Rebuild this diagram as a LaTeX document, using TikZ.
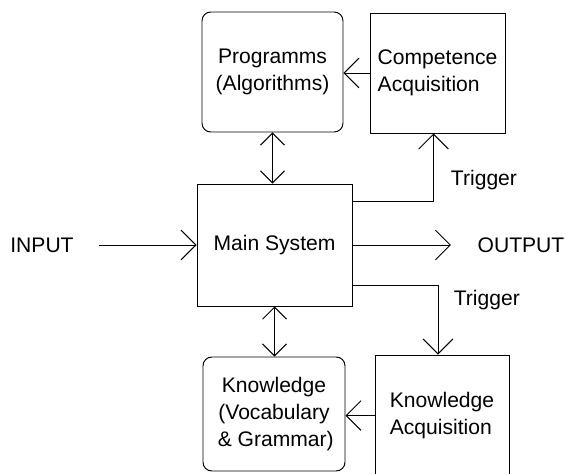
\documentclass[tikz,border=0pt]{standalone}
\usepackage{fontspec}
\setmainfont{Liberation Sans}
\usetikzlibrary{arrows.meta}

\begin{document}
\begin{tikzpicture}[
  box/.style={draw,line width=0.7pt,align=left,font=\fontsize{15}{19}\selectfont},
  rbox/.style={box,rounded corners=0.22cm,align=center},
  arr/.style={line width=0.7pt,-{Straight Barb[length=0.37cm,width=0.74cm]}},
  dblarr/.style={line width=0.7pt,{Straight Barb[length=0.3cm,width=0.6cm]}-{Straight Barb[length=0.3cm,width=0.6cm]}},
  lbl/.style={font=\fontsize{15}{19}\selectfont}]

\useasboundingbox (0,0) rectangle (14.15,11.825);

\node[rbox,minimum width=3.525cm,minimum height=3cm] (prog) at (6.8125,10.025) {Programms\\(Algorithms)};
\node[box,minimum width=3.375cm,minimum height=3cm] (comp) at (10.9375,10.0) {Competence\\Acquisition};
\node[box,minimum width=3.875cm,minimum height=3.05cm] (main) at (6.8625,5.7) {Main System};
\node[rbox,minimum width=3.55cm,minimum height=2.85cm] (know) at (6.85,1.475) {Knowledge\\(Vocabulary\\\,\& Grammar)};
\node[box,minimum width=3.35cm,minimum height=3.025cm] (kacq) at (11.05,1.4375) {Knowledge\\Acquisition};

\node[lbl,inner xsep=0.62cm] (inp) at (1.05,5.7) {INPUT};
\node[lbl,inner xsep=0.66cm] (out) at (13.025,5.7) {OUTPUT};
\node[lbl,anchor=west] (trig1) at (11.15,7.325) {Trigger};
\node[lbl,anchor=west] (trig2) at (11.22,4.325) {Trigger};

\draw[arr] (comp.west) -- (comp.west -| prog.east);
\draw[dblarr] (prog.south) -- (prog.south |- main.north);
\draw[dblarr] (main.south) -- (main.south |- know.north);
\draw[arr] (kacq.west) -- (kacq.west -| know.east);
\draw[arr] (inp.east) -- (main.west);
\draw[arr] (main.east) -- (out.west);
\draw[arr] ([yshift=-0.45cm]main.north east) -| ([xshift=-0.1cm]comp.south);
\draw[arr] ([yshift=0.525cm]main.south east) -| ([xshift=-0.1cm]kacq.north);

\end{tikzpicture}
\end{document}
